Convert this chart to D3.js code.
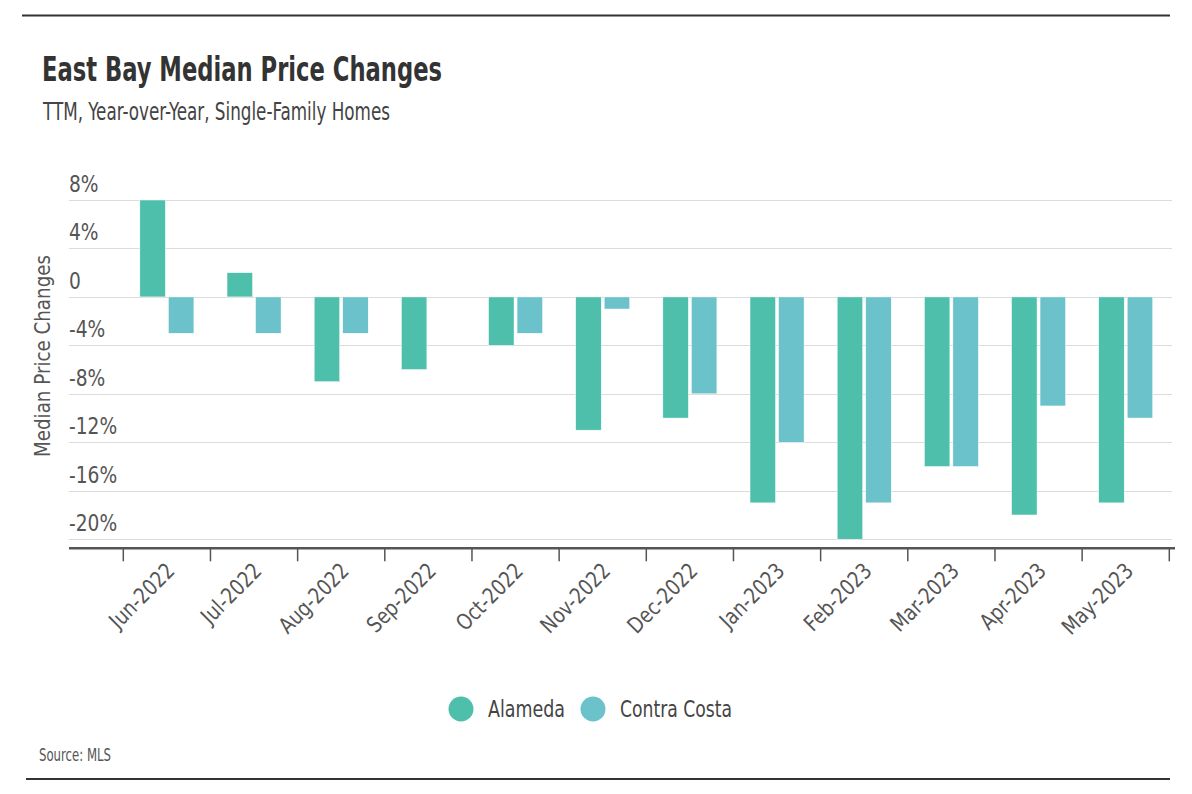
<!DOCTYPE html>
<html lang="en">
<head>
  <meta charset="UTF-8">
  <title>East Bay Median Price Changes</title>
  <style>
    html, body { margin: 0; padding: 0; background: #fff; }
    svg { display: block; }
    text { font-family: "DejaVu Sans", sans-serif; font-stretch: condensed; }
  </style>
</head>
<body>
  <svg width="1192" height="794"></svg>

  <script src="https://d3js.org/d3.v7.min.js"></script>
  <script>
    // data (percent, year-over-year)
    const months = ["Jun-2022", "Jul-2022", "Aug-2022", "Sep-2022", "Oct-2022", "Nov-2022",
                    "Dec-2022", "Jan-2023", "Feb-2023", "Mar-2023", "Apr-2023", "May-2023"];
    const seriesNames = ["Alameda", "Contra Costa"];
    const alameda     = [8, 2, -7, -6, -4, -11, -10, -17, -20, -14, -18, -17];
    const contraCosta = [-3, -3, -3, null, -3, -1, -8, -12, -17, -14, -9, -10];
    const yTicks = [8, 4, 0, -4, -8, -12, -16, -20];
    const colors = ["#4dbfab", "#6bc2cb"];

    const svg = d3.select("svg");

    // no narrow font installed: squeeze text to the reference width
    function squeeze(sel, w) {
      sel.attr("textLength", w).attr("lengthAdjust", "spacingAndGlyphs");
    }
    function squeezeBy(sel, k) {
      sel.each(function () {
        const len = this.getComputedTextLength();
        d3.select(this).attr("textLength", len * k).attr("lengthAdjust", "spacingAndGlyphs");
      });
    }

    // frame lines
    svg.append("line").attr("x1", 22).attr("x2", 1170).attr("y1", 15.5).attr("y2", 15.5)
      .attr("stroke", "#333").attr("stroke-width", 2);
    svg.append("line").attr("x1", 26).attr("x2", 1170).attr("y1", 779).attr("y2", 779)
      .attr("stroke", "#333").attr("stroke-width", 2);

    // titles
    svg.append("text").attr("x", 42).attr("y", 81)
      .attr("font-size", 34).attr("font-weight", "bold").attr("fill", "#333")
      .text("East Bay Median Price Changes")
      .call(squeeze, 400);
    svg.append("text").attr("x", 43).attr("y", 120)
      .attr("font-size", 25).attr("fill", "#444")
      .text("TTM, Year-over-Year, Single-Family Homes")
      .call(squeeze, 347);

    const plotLeft = 69, plotRight = 1172;
    const x = d3.scaleBand().domain(months).range([123.3, 1169.3]);
    const x1 = d3.scaleBand().domain(seriesNames).range([0, x.bandwidth()])
      .paddingInner(0.105).paddingOuter(0.58);
    const y = d3.scaleLinear().domain([-20.75, 8]).range([548.3, 200]);

    // grid lines + y labels
    const grid = svg.append("g");
    yTicks.forEach(t => {
      grid.append("line")
        .attr("x1", plotLeft).attr("x2", plotRight)
        .attr("y1", Math.round(y(t)) + 0.5).attr("y2", Math.round(y(t)) + 0.5)
        .attr("stroke", "#dcdcdc").attr("stroke-width", 1);
      grid.append("text")
        .attr("class", "ylab")
        .attr("x", plotLeft).attr("y", y(t) - 8)
        .attr("font-size", 23).attr("fill", "#555")
        .text(t === 0 ? "0" : t + "%");
    });
    squeezeBy(grid.selectAll(".ylab"), 0.9);

    svg.append("text")
      .attr("transform", `translate(50,356) rotate(-90)`)
      .attr("text-anchor", "middle")
      .attr("font-size", 22).attr("fill", "#555")
      .text("Median Price Changes")
      .call(squeeze, 202);

    // bars
    const series = [alameda, contraCosta];
    series.forEach((vals, si) => {
      svg.append("g").selectAll("rect")
        .data(months.map((m, i) => ({ m, v: vals[i] })).filter(d => d.v !== null))
        .join("rect")
        .attr("x", d => x(d.m) + x1(seriesNames[si]))
        .attr("width", x1.bandwidth())
        .attr("y", d => y(Math.max(0, d.v)))
        .attr("height", d => Math.abs(y(d.v) - y(0)))
        .attr("fill", colors[si])
        .attr("stroke", "#fff").attr("stroke-width", 0.5);
    });

    // x axis
    const axisY = 548.3;
    svg.append("line").attr("x1", plotLeft).attr("x2", 1175).attr("y1", axisY).attr("y2", axisY)
      .attr("stroke", "#555").attr("stroke-width", 2.5);
    const edges = months.map(m => x(m)).concat([x.range()[1]]);
    svg.append("g").selectAll("line").data(edges).join("line")
      .attr("x1", d => d).attr("x2", d => d)
      .attr("y1", axisY).attr("y2", axisY + 13)
      .attr("stroke", "#555").attr("stroke-width", 1.5);

    const xAxis = svg.append("g")
      .attr("transform", `translate(0,${axisY})`)
      .call(d3.axisBottom(x).tickSize(0).tickPadding(0));
    xAxis.select(".domain").remove();
    xAxis.selectAll("text")
      .attr("font-family", null)
      .attr("font-size", 22).attr("fill", "#555")
      .attr("text-anchor", "end")
      .attr("dy", null)
      .attr("transform", "translate(9,24) rotate(-45)")
      .call(squeezeBy, 0.92);

    // legend
    const legend = svg.append("g");
    const legendX = [461, 593];
    const legendW = [77, 112];
    seriesNames.forEach((name, i) => {
      legend.append("circle").attr("cx", legendX[i]).attr("cy", 709).attr("r", 12.5).attr("fill", colors[i]);
      legend.append("text").attr("x", legendX[i] + 27).attr("y", 717)
        .attr("font-size", 23).attr("fill", "#444").text(name)
        .call(squeeze, legendW[i]);
    });

    svg.append("text").attr("x", 39).attr("y", 761)
      .attr("font-size", 17).attr("fill", "#555").text("Source: MLS")
      .call(squeeze, 72);
  </script>
</body>
</html>
